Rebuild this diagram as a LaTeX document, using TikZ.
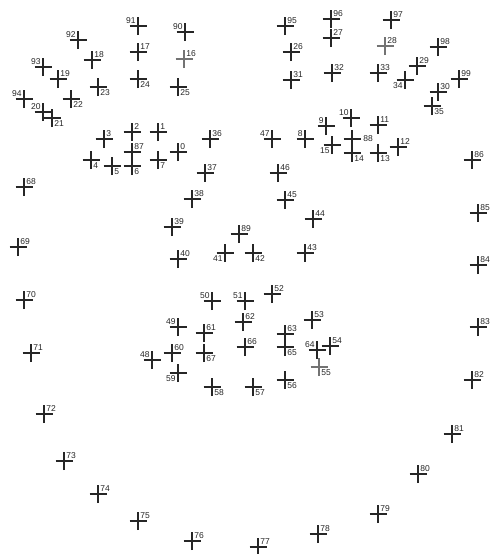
\documentclass[tikz,border=0pt]{standalone}
\usepackage{fontspec}
\setmainfont{Liberation Sans}

\begin{document}
\begin{tikzpicture}[x=1pt, y=-1pt, line width=1.1pt,
  lmk/.style={draw=black!85},
  faint/.style={draw=black!55},
  num/.style={inner sep=1.8pt, font=\fontsize{8.5}{9}\selectfont, text=black!85},
  ur/.style={above right}, lr/.style={below right},
  ul/.style={above left}, ll/.style={below left}, rt/.style={right=9pt}]
  \useasboundingbox (0,0) rectangle (497,554);
  % landmarks: number/x/y/where the number sits (image pixels)
  \foreach \n/\x/\y/\pos in {
      0/178/152/ur, 1/158/132/ur, 2/132/132/ur, 3/104/139/ur, 4/91/160/lr,
      5/112/166/lr, 6/132/166/lr, 7/158/160/lr, 8/305/139/ul, 9/326/126/ul,
      10/351/118/ul, 11/378/125/ur, 12/398/147/ur, 13/378/153/lr, 14/352/153/lr,
      15/332/145/ll, 17/138/52/ur, 18/92/60/ur, 19/58/79/ur,
      20/43/112/ul, 21/52/118/lr, 22/71/99/lr, 23/98/87/lr, 24/138/79/lr,
      25/178/87/lr, 26/291/52/ur, 27/331/38/ur, 29/417/66/ur,
      30/438/92/ur, 31/291/80/ur, 32/332/73/ur, 33/378/73/ur, 34/405/80/ll,
      35/432/106/lr, 36/210/139/ur, 37/205/173/ur, 38/192/199/ur, 39/172/227/ur,
      40/178/259/ur, 41/225/253/ll, 42/253/253/lr, 43/305/253/ur, 44/313/219/ur,
      45/285/200/ur, 46/278/173/ur, 47/272/139/ul, 48/152/360/ul, 49/178/327/ul,
      50/212/301/ul, 51/245/301/ul, 52/272/294/ur, 53/312/320/ur, 54/330/346/ur,
      56/285/380/lr, 57/253/387/lr, 58/212/387/lr, 59/178/373/ll,
      60/172/353/ur, 61/204/333/ur, 62/243/322/ur, 63/285/334/ur, 64/317/350/ul,
      65/285/347/lr, 66/245/347/ur, 67/204/353/lr, 68/24/187/ur, 69/18/247/ur,
      70/24/300/ur, 71/31/353/ur, 72/44/414/ur, 73/64/461/ur, 74/98/494/ur,
      75/138/521/ur, 76/192/541/ur, 77/258/547/ur, 78/318/534/ur, 79/378/514/ur,
      80/418/474/ur, 81/452/434/ur, 82/472/380/ur, 83/478/327/ur, 84/478/265/ur,
      85/478/213/ur, 86/472/160/ur, 87/132/152/ur, 88/352/139/rt, 89/239/234/ur,
      90/185/32/ul, 91/138/26/ul, 92/78/40/ul, 93/43/67/ul, 94/24/99/ul,
      95/285/26/ur, 96/331/19/ur, 97/391/20/ur, 98/438/47/ur, 99/459/79/ur}{
    \coordinate (p\n) at (\x,\y);
    \draw[lmk] ([xshift=-8.5pt]p\n) -- ([xshift=8.5pt]p\n);
    \draw[lmk] ([yshift=-9pt]p\n) -- ([yshift=9pt]p\n);
    \node[num, \pos] (l\n) at (p\n) {\n};
  }
  % the lighter ones
  \foreach \n/\x/\y/\pos in {16/184/59/ur, 28/385/46/ur, 55/319/367/lr}{
    \coordinate (p\n) at (\x,\y);
    \draw[faint] ([xshift=-8.5pt]p\n) -- ([xshift=8.5pt]p\n);
    \draw[faint] ([yshift=-9pt]p\n) -- ([yshift=9pt]p\n);
    \node[num, \pos] (l\n) at (p\n) {\n};
  }
\end{tikzpicture}
\end{document}
